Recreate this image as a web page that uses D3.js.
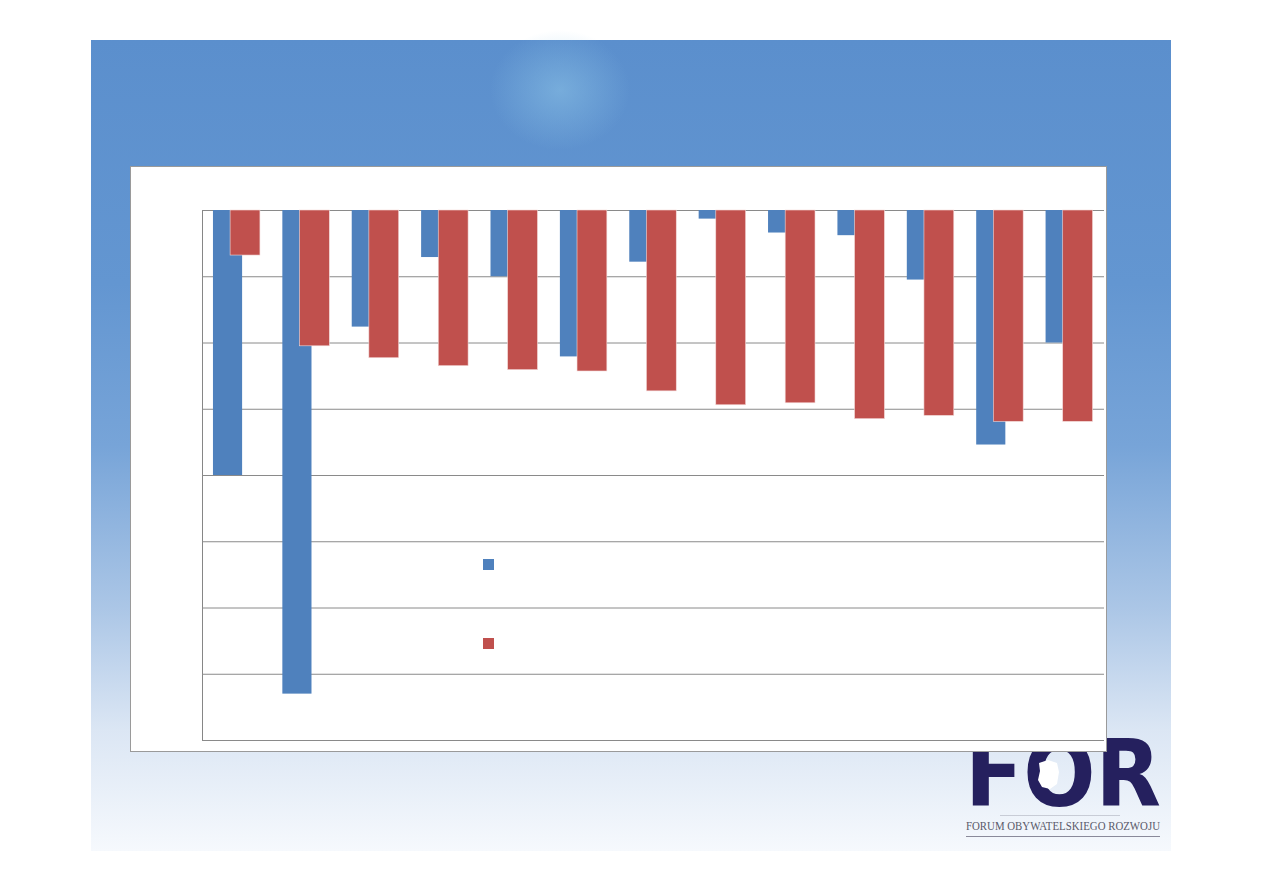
<!DOCTYPE html>
<html>
<head>
<meta charset="utf-8">
<script src="https://cdn.jsdelivr.net/npm/d3@7"></script>
<style>
  body { margin: 0; background: #ffffff; }
  svg { display: block; }
</style>
</head>
<body>
<svg id="chart"></svg>
<script>
// 13 groups, values (grid units, all negative)
let categories = ['1', '2', '3', '4', '5', '6', '7', '8', '9', '10', '11', '12', '13']
let seriesBlue = [-4.0, -7.3, -1.76, -0.71, -1.0, -2.21, -0.78, -0.13, -0.34, -0.38, -1.05, -3.54, -2.0]
let seriesRed = [-0.68, -2.05, -2.23, -2.35, -2.41, -2.43, -2.73, -2.94, -2.91, -3.15, -3.1, -3.19, -3.19]
let yTicks = [0, -1, -2, -3, -4, -5, -6, -7, -8]

let width = 1263
let height = 893

let plot = { left: 202, right: 1104, top: 210, bottom: 740 }

let svg = d3.select('#chart')
            .attr('width', width)
            .attr('height', height)

// slide background
let defs = svg.append('defs')
let grad = defs.append('linearGradient')
               .attr('id', 'bg')
               .attr('x1', 0).attr('y1', 0).attr('x2', 0).attr('y2', 1)
let stops = [[0, '#5b8fcd'], [0.3, '#6396d1'], [0.5, '#77a4d8'], [0.7, '#abc6e6'], [0.85, '#dbe6f4'], [1, '#f6f9fd']]
stops.forEach(s => {
  grad.append('stop').attr('offset', s[0]).attr('stop-color', s[1])
})
let glow = defs.append('radialGradient')
               .attr('id', 'glow')
glow.append('stop').attr('offset', 0).attr('stop-color', '#8cc3e6').attr('stop-opacity', 0.55)
glow.append('stop').attr('offset', 1).attr('stop-color', '#8cc3e6').attr('stop-opacity', 0)

svg.append('rect')
   .attr('x', 91).attr('y', 40)
   .attr('width', 1080).attr('height', 811)
   .attr('fill', 'url(#bg)')

svg.append('ellipse')
   .attr('cx', 560).attr('cy', 90)
   .attr('rx', 70).attr('ry', 60)
   .attr('fill', 'url(#glow)')

// FOR logo (sits behind the chart box)
let logo = svg.append('g')
logo.append('text')
    .attr('x', 965)
    .attr('y', 806)
    .attr('textLength', 196)
    .attr('lengthAdjust', 'spacingAndGlyphs')
    .attr('font-family', 'DejaVu Sans')
    .attr('font-weight', 'bold')
    .attr('font-size', 92)
    .attr('fill', '#25205e')
    .text('FOR')
logo.append('path')
    .attr('d', 'M1039,763 L1048,760 L1057,763 L1059,772 L1057,784 L1050,789 L1042,787 L1038,780 L1040,771 Z')
    .attr('fill', '#ffffff')
logo.append('line')
    .attr('x1', 1000).attr('x2', 1120)
    .attr('y1', 815.5).attr('y2', 815.5)
    .attr('stroke', '#c8ccd6')
logo.append('text')
    .attr('x', 966)
    .attr('y', 830)
    .attr('textLength', 194)
    .attr('lengthAdjust', 'spacingAndGlyphs')
    .attr('font-family', 'Liberation Serif')
    .attr('font-size', 13)
    .attr('fill', '#5a5a6a')
    .text('FORUM OBYWATELSKIEGO ROZWOJU')
logo.append('line')
    .attr('x1', 966).attr('x2', 1160)
    .attr('y1', 836.5).attr('y2', 836.5)
    .attr('stroke', '#8a8a9a')

// chart box
svg.append('rect')
   .attr('x', 130.5).attr('y', 166.5)
   .attr('width', 976).attr('height', 585)
   .attr('fill', '#ffffff')
   .attr('stroke', '#9a9a9a')

let xScale = d3.scaleBand()
               .domain(categories)
               .range([plot.left, plot.right])

let yScale = d3.scaleLinear()
               .domain([-8, 0])
               .range([plot.bottom, plot.top])

let yAxis = d3.axisLeft(yScale)
              .tickValues(yTicks)
              .tickSize(-(plot.right - plot.left))
              .tickFormat('')

let gAxis = svg.append('g')
               .attr('transform', 'translate(' + plot.left + ', 0)')
               .call(yAxis)
gAxis.select('.domain').attr('stroke', '#868686')
gAxis.selectAll('.tick line').attr('stroke', '#8a8a8a')

let step = xScale.step()

svg.append('g')
   .selectAll('rect')
   .data(categories)
   .enter()
   .append('rect')
   .attr('x', (d) => xScale(d) + step * 0.158)
   .attr('width', step * 0.42)
   .attr('y', yScale(0))
   .attr('height', (d, i) => yScale(seriesBlue[i]) - yScale(0))
   .attr('fill', '#4f81bd')

svg.append('g')
   .selectAll('rect')
   .data(categories)
   .enter()
   .append('rect')
   .attr('x', (d) => xScale(d) + step * 0.405)
   .attr('width', step * 0.43)
   .attr('y', yScale(0))
   .attr('height', (d, i) => yScale(seriesRed[i]) - yScale(0))
   .attr('fill', '#c0504d')
   .attr('stroke', '#f3d9d8')
   .attr('stroke-width', 0.6)

// legend keys (no labels in the picture)
let legendColors = ['#4f81bd', '#c0504d']
svg.append('g')
   .selectAll('rect')
   .data(legendColors)
   .enter()
   .append('rect')
   .attr('x', 483)
   .attr('y', (d, i) => 559 + i * 79)
   .attr('width', 11)
   .attr('height', 11)
   .attr('fill', (d) => d)
</script>
</body>
</html>
